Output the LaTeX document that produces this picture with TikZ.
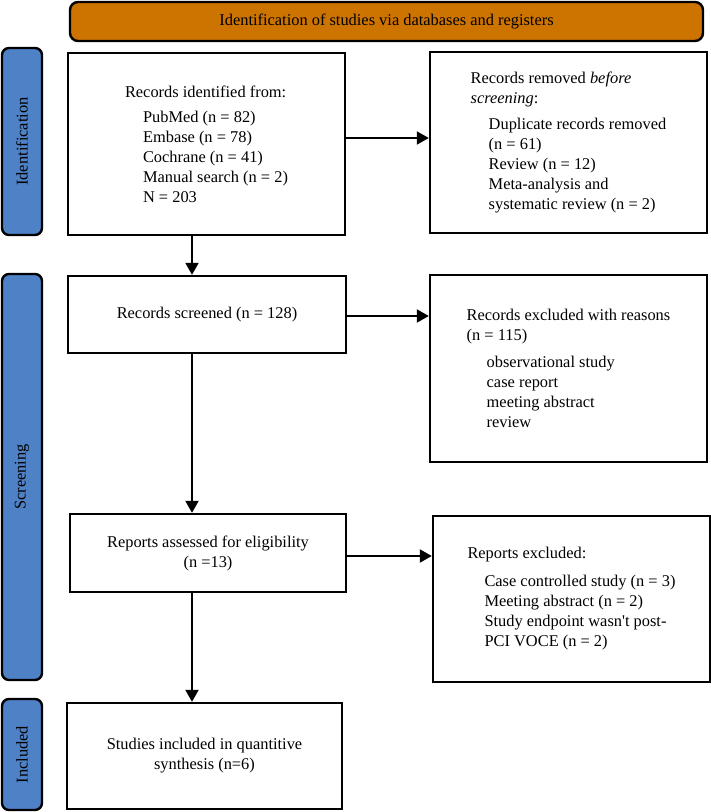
\documentclass[tikz,border=0pt]{standalone}
\usepackage{fontspec}
\setmainfont{Liberation Serif}
\usetikzlibrary{arrows.meta,calc}
\definecolor{barblue}{RGB}{79,129,198}
\definecolor{titleorange}{RGB}{204,115,0}
\begin{document}
\begin{tikzpicture}[x=1pt,y=-1pt,
  txt/.style={font=\fontsize{16.4}{20}\selectfont},
  box/.style={txt, draw, line width=2.4pt, inner sep=0pt, align=left},
  cbox/.style={txt, draw, line width=2.4pt, inner sep=0pt, align=center},
  bar/.style={draw, line width=2.4pt, fill=barblue, rounded corners=7pt, inner sep=0pt, minimum width=40pt},
  barlabel/.style={txt, rotate=90, inner sep=0pt},
  arr/.style={line width=2pt, -{Triangle[length=12pt,width=13pt]}},
]
\useasboundingbox (0,0) rectangle (711,812);

% title
\node[txt, draw, line width=2.4pt, fill=titleorange, rounded corners=8pt,
      minimum width=633pt, minimum height=39pt, inner sep=0pt] (title) at (386.5,21.5)
  {Identification of studies via databases and registers};

% side bars
\node[bar, minimum height=187pt] (idbar) at (22,141.5) {};
\node[barlabel] (idlab) at (idbar.center) {Identification};
\node[bar, minimum height=406pt] (scrbar) at (22,477) {};
\node[barlabel] (scrlab) at (scrbar.center) {Screening};
\node[bar, minimum height=111pt] (incbar) at (22,754.5) {};
\node[barlabel] (inclab) at (incbar.center) {Included};

% left column
\node[box, minimum width=277pt, minimum height=182pt] (b1) at (206.5,144)
  {Records identified from:\\[5pt]
   \hspace*{18pt}PubMed (n = 82)\\
   \hspace*{18pt}Embase (n = 78)\\
   \hspace*{18pt}Cochrane (n = 41)\\
   \hspace*{18pt}Manual search (n = 2)\\
   \hspace*{18pt}N = 203};
\node[cbox, minimum width=278pt, minimum height=77pt] (b2) at (207,314.5)
  {Records screened (n = 128)};
\node[cbox, minimum width=276pt, minimum height=78pt] (b3) at (208,553)
  {Reports assessed for eligibility\\(n =13)};
\node[cbox, minimum width=275pt, minimum height=106pt] (b4) at (204.5,756)
  {Studies included in quantitive\\synthesis (n=6)};

% right column
\node[box, minimum width=277pt, minimum height=181pt] (r1) at (568.5,142.5)
  {Records removed \textit{before}\\
   \textit{screening}:\\[6pt]
   \hspace*{18pt}Duplicate records removed\\
   \hspace*{18pt}(n = 61)\\
   \hspace*{18pt}Review (n = 12)\\
   \hspace*{18pt}Meta-analysis and\\
   \hspace*{18pt}systematic review (n = 2)};
\node[box, minimum width=277pt, minimum height=187pt] (r2) at (568.5,368.5)
  {Records excluded with reasons\\
   (n = 115)\\[7pt]
   \hspace*{20pt}observational study\\
   \hspace*{20pt}case report\\
   \hspace*{20pt}meeting abstract\\
   \hspace*{20pt}review};
\node[box, minimum width=277pt, minimum height=166pt] (r3) at (571.5,599)
  {Reports excluded:\\[8pt]
   \hspace*{17pt}Case controlled study (n = 3)\\
   \hspace*{17pt}Meeting abstract (n = 2)\\
   \hspace*{17pt}Study endpoint wasn\textquotesingle t post-\\
   \hspace*{17pt}PCI VOCE (n = 2)};

% connectors
\coordinate (vx) at (192,0);
\draw[arr] (b1.south -| vx) -- (b2.north -| vx);
\draw[arr] (b2.south -| vx) -- (b3.north -| vx);
\draw[arr] (b3.south -| vx) -- (b4.north -| vx);
\draw[arr] ([yshift=6pt]b1.east) -- ([yshift=6pt]b1.east -| r1.west);
\draw[arr] ([yshift=-1.5pt]b2.east) -- ([yshift=-1.5pt]b2.east -| r2.west);
\draw[arr] ([yshift=-3pt]b3.east) -- ([yshift=-3pt]b3.east -| r3.west);
\end{tikzpicture}
\end{document}
